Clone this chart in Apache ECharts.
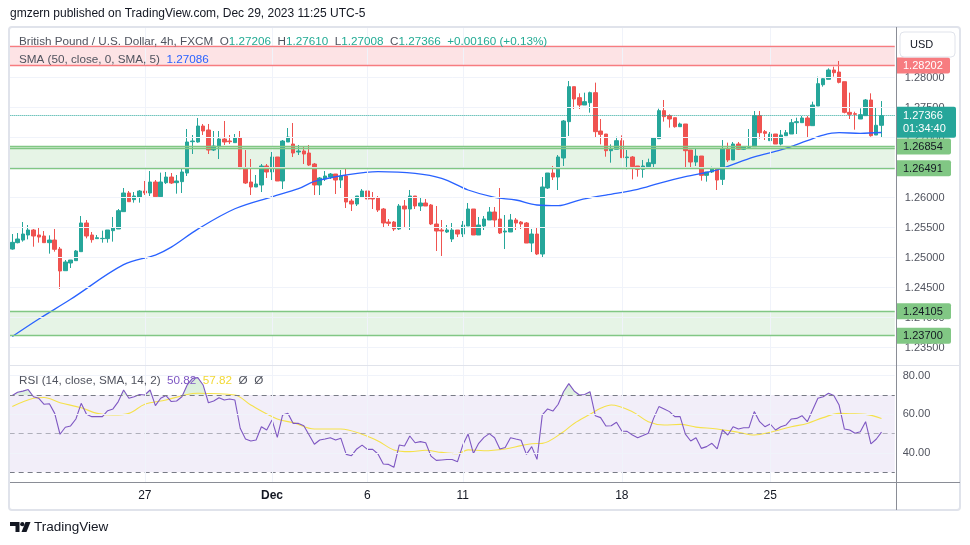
<!DOCTYPE html>
<html><head><meta charset="utf-8">
<script src="https://cdn.jsdelivr.net/npm/echarts@6/dist/echarts.min.js"></script>
<style>html,body{margin:0;padding:0;background:#fff}#c{width:970px;height:545px}</style>
</head><body><div id="c"></div>
<script>
// ---------------- DATA ----------------
const opens = [
1.25144,1.25250,1.25294,1.25378,1.25461,1.25378,1.25361,1.25250,1.25294,1.25144,
1.24783,1.24911,1.24950,1.25100,1.25578,1.25378,1.25317,1.25317,1.25317,1.25450,
1.25478,1.25767,1.26078,1.25967,1.26011,1.26111,1.26078,1.26261,1.26017,1.26250,
1.26344,1.26250,1.26267,1.26411,1.26933,1.26928,1.27194,1.27128,1.26794,1.26850,
1.26978,1.26944,1.26917,1.26994,1.26494,1.26261,1.26178,1.26211,1.26528,1.26428,
1.26678,1.26278,1.26928,1.26894,1.26761,1.26778,1.26744,1.26561,1.26211,1.26311,
1.26344,1.26394,1.26294,1.26361,1.25944,1.25894,1.26011,1.26111,1.25994,1.25994,
1.25811,1.25594,1.25594,1.25478,1.25861,1.25811,1.26028,1.25861,1.25911,1.25878,
1.25561,1.25461,1.25428,1.25311,1.25461,1.25394,1.25528,1.25811,1.25378,1.25528,
1.25628,1.25761,1.25644,1.25428,1.25428,1.25628,1.25594,1.25578,1.25244,1.25394,
1.25061,1.26161,1.26411,1.26344,1.26661,1.27267,1.27850,1.27667,1.27544,1.27583,
1.27750,1.27111,1.27061,1.26783,1.26806,1.26950,1.26667,1.26678,1.26528,1.26472,
1.26517,1.26567,1.26983,1.27450,1.27367,1.27333,1.27183,1.27228,1.26794,1.26594,
1.26694,1.26372,1.26428,1.26494,1.26305,1.26817,1.26628,1.26894,1.26806,1.26839,
1.26850,1.27367,1.27100,1.26950,1.27061,1.26894,1.27033,1.27061,1.27250,1.27250,
1.27328,1.27200,1.27528,1.27883,1.27972,1.28128,1.28094,1.27933,1.27422,1.27400,
1.27311,1.27367,1.27628,1.27044,1.27206];
const closes = [
1.25255,1.25311,1.25394,1.25461,1.25361,1.25344,1.25250,1.25294,1.25139,1.24778,
1.24928,1.24961,1.25111,1.25578,1.25361,1.25300,1.25333,1.25322,1.25461,1.25494,
1.25783,1.26078,1.25933,1.26028,1.26111,1.26078,1.26261,1.26017,1.26261,1.26344,
1.26244,1.26278,1.26428,1.26928,1.26944,1.27194,1.27111,1.26794,1.26861,1.26978,
1.26928,1.26933,1.26994,1.26483,1.26244,1.26178,1.26228,1.26528,1.26428,1.26678,
1.26278,1.26944,1.27011,1.26744,1.26778,1.26728,1.26544,1.26211,1.26328,1.26361,
1.26394,1.26294,1.26361,1.25928,1.25894,1.26028,1.26111,1.25978,1.25978,1.25794,
1.25578,1.25572,1.25478,1.25861,1.25811,1.26028,1.25861,1.25911,1.25861,1.25561,
1.25444,1.25444,1.25461,1.25461,1.25394,1.25544,1.25811,1.25378,1.25544,1.25644,
1.25761,1.25628,1.25411,1.25444,1.25628,1.25578,1.25561,1.25244,1.25394,1.25061,
1.26178,1.26411,1.26344,1.26678,1.27278,1.27850,1.27644,1.27544,1.27600,1.27750,
1.27100,1.27055,1.26783,1.26817,1.26950,1.26667,1.26678,1.26517,1.26472,1.26528,
1.26583,1.27000,1.27450,1.27350,1.27311,1.27183,1.27228,1.26783,1.26594,1.26694,
1.26372,1.26428,1.26494,1.26294,1.26817,1.26628,1.26894,1.26806,1.26850,1.26850,
1.27367,1.27083,1.27072,1.27061,1.26894,1.27044,1.27083,1.27250,1.27267,1.27328,
1.27200,1.27544,1.27900,1.27983,1.28128,1.28083,1.27922,1.27422,1.27389,1.27389,
1.27383,1.27628,1.27033,1.27206,1.27366];
const lows = [
1.25133,1.25239,1.25267,1.25305,1.25183,1.25250,1.25250,1.25067,1.25100,1.24478,
1.24783,1.24828,1.24950,1.25100,1.25322,1.25250,1.25317,1.25250,1.25250,1.25267,
1.25478,1.25767,1.25933,1.25917,1.25917,1.26044,1.26028,1.26017,1.26017,1.26228,
1.26228,1.26067,1.26078,1.26361,1.26728,1.26917,1.27044,1.26728,1.26778,1.26644,
1.26878,1.26894,1.26917,1.26483,1.26228,1.26044,1.26178,1.26094,1.26328,1.26294,
1.26278,1.26144,1.26928,1.26678,1.26711,1.26561,1.26528,1.26044,1.26044,1.26278,
1.26311,1.26061,1.26161,1.25828,1.25778,1.25861,1.25994,1.25911,1.25811,1.25761,
1.25511,1.25528,1.25444,1.25461,1.25494,1.25461,1.25811,1.25778,1.25861,1.25544,
1.25111,1.25028,1.25411,1.25261,1.25344,1.25344,1.25528,1.25378,1.25378,1.25461,
1.25628,1.25494,1.25394,1.25144,1.25428,1.25461,1.25478,1.25244,1.25094,1.25044,
1.24994,1.26144,1.26294,1.26128,1.26528,1.27028,1.27478,1.27478,1.27544,1.27417,
1.27000,1.26889,1.26683,1.26583,1.26806,1.26667,1.26472,1.26305,1.26350,1.26333,
1.26517,1.26505,1.26983,1.27267,1.27167,1.27167,1.27183,1.26483,1.26478,1.26528,
1.26283,1.26267,1.26411,1.26128,1.26211,1.26594,1.26628,1.26794,1.26794,1.26822,
1.26850,1.26983,1.26961,1.26950,1.26894,1.26872,1.27033,1.27061,1.27061,1.27250,
1.27000,1.27200,1.27528,1.27850,1.27972,1.28017,1.27905,1.27405,1.27311,1.27133,
1.27311,1.27367,1.27017,1.27044,1.27008];
const highs = [
1.25394,1.25411,1.25594,1.25544,1.25478,1.25494,1.25444,1.25372,1.25478,1.25178,
1.24961,1.24961,1.25128,1.25694,1.25628,1.25428,1.25378,1.25450,1.25461,1.25678,
1.25811,1.26161,1.26111,1.26094,1.26128,1.26278,1.26444,1.26294,1.26417,1.26428,
1.26411,1.26378,1.26478,1.27144,1.27044,1.27328,1.27228,1.27228,1.27111,1.27111,
1.27278,1.27044,1.27061,1.27111,1.26794,1.26644,1.26378,1.26561,1.26561,1.26761,
1.26678,1.26961,1.27161,1.27244,1.26878,1.26861,1.26878,1.26578,1.26344,1.26444,
1.26411,1.26394,1.26461,1.26511,1.25978,1.26028,1.26144,1.26111,1.26094,1.26028,
1.25828,1.25644,1.25611,1.25894,1.25961,1.26128,1.26028,1.25994,1.25978,1.25894,
1.25861,1.25628,1.25544,1.25578,1.25461,1.25611,1.25911,1.25811,1.25678,1.25694,
1.25844,1.25844,1.26161,1.25711,1.25728,1.25661,1.25611,1.25594,1.25478,1.25494,
1.26344,1.26411,1.26528,1.26711,1.27294,1.27944,1.27850,1.27739,1.27750,1.27767,
1.27917,1.27311,1.27061,1.26889,1.27017,1.27039,1.26794,1.26694,1.26528,1.26628,
1.26650,1.27000,1.27483,1.27628,1.27389,1.27333,1.27250,1.27228,1.26794,1.26828,
1.26694,1.26428,1.26517,1.26494,1.26961,1.26917,1.26928,1.26928,1.26861,1.27144,
1.27444,1.27444,1.27128,1.27094,1.27061,1.27128,1.27128,1.27311,1.27333,1.27361,
1.27361,1.27600,1.28017,1.28000,1.28155,1.28183,1.28278,1.27933,1.27750,1.27433,
1.27489,1.27644,1.27739,1.27500,1.27610];

// SMA(50) at these candle indices
const smaIdx = [0,5,11,21,27,30,35,42,49,54,57,63,69,76,81,86,91,95,99,103,107,112,118,122,127,133,140,145,150,153,156,160,164];
const smaVal = [1.23686,1.23978,1.24306,1.24883,1.25044,1.25175,1.25475,1.25815,1.26015,1.26150,1.26270,1.26378,1.26433,1.26406,1.26323,1.26128,1.26006,1.25961,1.25878,1.25866,1.25961,1.26044,1.26140,1.26240,1.26350,1.26465,1.26680,1.26795,1.26950,1.27044,1.27083,1.27073,1.27086];

// RSI(14), one value per candle
const rsiVal = [
69.7,71.4,72.0,72.8,69.1,68.3,65.2,65.5,60.5,49.7,
53.3,54.0,57.6,65.7,60.0,58.8,58.8,58.8,61.9,62.8,
66.6,72.6,68.3,69.1,70.3,70.0,72.6,64.5,68.3,69.7,
66.6,66.9,69.1,75.2,78.6,79.0,75.2,66.0,66.9,68.6,
67.4,67.9,67.4,52.8,47.2,46.2,46.7,53.6,51.9,57.1,
48.1,59.7,60.5,55.3,55.3,54.1,49.3,44.5,46.7,47.2,
47.9,46.7,47.6,39.3,38.6,42.1,44.1,41.9,41.9,39.5,
34.3,34.1,32.6,44.1,43.6,48.8,45.3,45.9,45.3,38.4,
36.2,36.4,36.6,36.6,35.5,44.1,49.8,39.8,45.0,48.1,
50.0,47.9,42.1,42.8,47.9,47.2,46.6,39.3,43.3,36.7,
59.7,62.8,61.7,65.2,71.7,75.9,72.1,70.0,70.3,71.7,
59.3,58.3,54.0,54.1,55.9,51.4,51.2,49.3,47.9,49.0,
50.2,57.9,64.0,62.8,61.4,58.8,58.8,49.8,46.2,47.9,
42.4,43.3,45.0,42.1,51.9,49.3,53.6,52.4,53.1,53.1,
61.4,56.2,53.6,55.0,51.9,53.6,54.5,57.6,57.9,59.3,
56.2,62.2,68.3,69.1,70.9,69.7,64.8,52.4,51.9,50.2,
51.0,56.2,44.7,47.1,50.8];

// RSI-based MA read at these indices
const rsiMaIdx = [0,4,6,9,13,16,19,22,25,29,33,35,42,45,50,53,57,62,66,69,72,75,78,81,84,86,89,93,96,98,100,104,106,109,111,113,117,120,123,126,129,133,137,140,143,147,150,153,156,158,161,164];
const rsiMaVal = [64.0,68.3,68.7,66.0,63.4,60.5,59.7,60.5,65.2,67.4,70.3,70.9,70.0,64.8,57.6,55.7,52.4,52.4,49.7,46.2,41.6,40.7,41.4,40.3,39.7,41.6,41.2,42.1,43.8,44.8,45.0,51.0,55.3,60.0,63.1,64.8,61.4,56.2,54.5,54.8,53.4,52.4,50.7,49.3,50.7,53.6,55.3,58.3,60.5,60.3,60.0,57.9];

const dateLabels = ['27','Dec','6','11','18','25'];
const dateIdx = [25,49,67,85,115,143];
const priceTicks = [1.235,1.240,1.245,1.250,1.255,1.260,1.265,1.270,1.275,1.280,1.285];
const rsiTicks = [40,60,80];
const rsiLevels = [30,50,70];
const redZone = [1.28202,1.28516];
const greenZone1 = [1.26491,1.26854];
const greenZone1Inner = 1.26820;
const greenZone2 = [1.23700,1.24105];
const lastPrice = 1.27366;
const countdown = '01:34:40';

// ---------------- CHART ----------------
const FONT = '"Liberation Sans", Arial, sans-serif';
const N = 167;
const cats = Array.from({length:N},(_,i)=>String(i));
const candles = opens.map((o,i)=>[o, closes[i], lows[i], highs[i]]);
const smaData = smaIdx.map((x,i)=>[String(x), smaVal[i]]);
const rsiMaData = rsiMaIdx.map((x,i)=>[String(x), rsiMaVal[i]]);

const GL = 9.65, GR = 75.25, P_TOP = 27, P_BOT = 365, R_BOT = 482;
const R_MIN = 25.0, R_MAX = 85.52;
const chart = echarts.init(document.getElementById('c'));

const grayLine = {color:'#f0f3fa', width:1, type:'solid'};
const vLines = dateIdx.map(i=>({xAxis:String(i), lineStyle:grayLine, label:{show:false}}));
// height of the overbought strip (RSI 70..max) inside the RSI pane
const OB_H = (R_MAX - rsiLevels[2]) / (R_MAX - R_MIN) * (R_BOT - P_BOT);

const option = {
  animation:false,
  backgroundColor:'#ffffff',
  textStyle:{fontFamily:FONT},
  grid:[
    {left:GL, right:GR, top:P_TOP, height:P_BOT-P_TOP},
    {left:GL, right:GR, top:P_BOT, height:R_BOT-P_BOT},
    {left:GL, right:GR, top:P_BOT, height:OB_H}
  ],
  xAxis:[
    {type:'category', gridIndex:0, data:cats, boundaryGap:true, show:false},
    {type:'category', gridIndex:1, data:cats, boundaryGap:true,
     axisLine:{show:false}, axisTick:{show:false}, splitLine:{show:false},
     axisLabel:{
       interval:(i)=>dateIdx.indexOf(i)>=0,
       formatter:(v,i)=>{const t=dateLabels[dateIdx.indexOf(i)]||''; return t==='Dec'?'{b|Dec}':t;},
       color:'#131722', fontSize:12, margin:8, fontFamily:FONT,
       rich:{b:{fontWeight:'bold', fontSize:12, color:'#131722', fontFamily:FONT}}
     }},
    {type:'category', gridIndex:2, data:cats, boundaryGap:true, show:false}
  ],
  yAxis:[
    {type:'value', gridIndex:0, min:1.232112, max:1.288445, show:false},
    {type:'value', gridIndex:1, min:R_MIN, max:R_MAX, show:false},
    {type:'value', gridIndex:2, min:rsiLevels[2], max:R_MAX, show:false}
  ],
  series:[
    { // price grid lines & tick labels
      type:'line', xAxisIndex:0, yAxisIndex:0, data:[], z:1, silent:true,
      markLine:{silent:true, precision:6, symbol:['none','none'], animation:false,
        data: priceTicks.map(v=>({yAxis:v, lineStyle:grayLine,
          label:{show:true, position:'end', distance:10, formatter:v.toFixed(5), color:'#50535e', fontSize:11, fontFamily:FONT}}))
          .concat(vLines)}
    },
    { // RSI grid lines, levels, band
      type:'line', xAxisIndex:1, yAxisIndex:1, data:[], z:1, silent:true,
      markArea:{silent:true, itemStyle:{color:'rgba(126,87,194,0.10)'}, data:[[{yAxis:rsiLevels[0]},{yAxis:rsiLevels[2]}]]},
      markLine:{silent:true, precision:4, symbol:['none','none'], animation:false,
        data: rsiTicks.map(v=>({yAxis:v, lineStyle:grayLine,
          label:{show:true, position:'end', distance:8, formatter:v.toFixed(2), color:'#50535e', fontSize:11, fontFamily:FONT}}))
          .concat(rsiLevels.map(v=>({yAxis:v, label:{show:false},
            lineStyle:{color: v===50?'rgba(120,123,134,0.55)':'#787b86', width:1, type:[5,4]}})))
          .concat(vLines)}
    },
    { // overbought fill (RSI above 70), clipped to the strip above the 70 level
      type:'line', xAxisIndex:2, yAxisIndex:2, data:rsiVal, z:2, symbol:'none', silent:true, clip:true,
      lineStyle:{width:0, opacity:0},
      areaStyle:{origin:'start', color:new echarts.graphic.LinearGradient(0,0,0,1,[
        {offset:0, color:'rgba(76,175,80,0.30)'},{offset:1, color:'rgba(76,175,80,0.02)'}])}
    },
    {
      type:'candlestick', xAxisIndex:0, yAxisIndex:0, data:candles, z:3, barWidth:4,
      itemStyle:{color:'#26a69a', color0:'#ef5350', borderColor:'#26a69a', borderColor0:'#ef5350', borderWidth:1},
      markArea:{silent:true, data:[
        [{yAxis:redZone[0], itemStyle:{color:'rgba(242,54,69,0.14)'}},{yAxis:redZone[1]}],
        [{yAxis:greenZone1[0], itemStyle:{color:'rgba(76,175,80,0.14)'}},{yAxis:greenZone1[1]}],
        [{yAxis:greenZone2[0], itemStyle:{color:'rgba(76,175,80,0.14)'}},{yAxis:greenZone2[1]}]
      ]},
      markLine:{silent:true, precision:6, symbol:['none','none'], animation:false, label:{show:false},
        data:[
          {yAxis:redZone[0], lineStyle:{color:'#f77c80', width:1.3, type:'solid'}},
          {yAxis:redZone[1], lineStyle:{color:'#f77c80', width:1.3, type:'solid'}},
          {yAxis:greenZone1[0], lineStyle:{color:'#81c784', width:1.3, type:'solid'}},
          {yAxis:greenZone1[1], lineStyle:{color:'#81c784', width:1.3, type:'solid'}},
          {yAxis:greenZone1Inner, lineStyle:{color:'#81c784', width:1.3, type:'solid'}},
          {yAxis:greenZone2[0], lineStyle:{color:'#81c784', width:1.3, type:'solid'}},
          {yAxis:greenZone2[1], lineStyle:{color:'#81c784', width:1.3, type:'solid'}},
          {yAxis:lastPrice, lineStyle:{color:'#26a69a', width:1, type:'dotted'}}
        ]}
    },
    {type:'line', xAxisIndex:0, yAxisIndex:0, data:smaData, z:4, symbol:'none', smooth:0.35,
     lineStyle:{color:'#2962ff', width:1.3}},
    {type:'line', xAxisIndex:1, yAxisIndex:1, data:rsiMaData, z:3, symbol:'none', smooth:0.35,
     lineStyle:{color:'#f5e14a', width:1.1}},
    {type:'line', xAxisIndex:1, yAxisIndex:1, data:rsiVal, z:4, symbol:'none',
     lineStyle:{color:'#7e57c2', width:1.1}}
  ]
};
chart.setOption(option);

// ---------------- OVERLAY (positions from the library's scale) ----------------
const py = v => chart.convertToPixel({yAxisIndex:0}, v);
const G = [];
const Z = 100;
function txt(x,y,text,fill,size,extra){
  G.push(Object.assign({type:'text', z:Z+2, silent:true, x:x, y:y,
    style:Object.assign({text:text, fill:fill, font:(size||12)+'px '+FONT, verticalAlign:'middle', align:'left'}, extra||{})}));
}
function line(x1,y1,x2,y2,color,w){
  G.push({type:'line', z:Z, silent:true, shape:{x1:x1,y1:y1,x2:x2,y2:y2}, style:{stroke:color, lineWidth:w||1}});
}
// frame & separators
G.push({type:'rect', z:Z, silent:true, shape:{x:9,y:27,width:951,height:483,r:3}, style:{fill:'transparent', stroke:'#e0e3eb', lineWidth:2}});
line(10,365.5,960,365.5,'#e0e3eb',1);
line(10,482.5,960,482.5,'#8a8d96',1);
line(896.5,27,896.5,510,'#8a8d96',1);

// price-scale boxes
function pbox(v,bg,fg,w){
  const y = py(v);
  G.push({type:'rect', z:Z+1, silent:true, shape:{x:897,y:y-8,width:w,height:16,r:[0,2,2,0]}, style:{fill:bg}});
  txt(903, y+0.5, v.toFixed(5), fg, 11);
}
pbox(redZone[0],'#f77c80','#ffffff',53);
pbox(greenZone1[1],'#81c784','#131722',54);
pbox(greenZone1[0],'#81c784','#131722',54);
pbox(greenZone2[1],'#81c784','#131722',54);
pbox(greenZone2[0],'#81c784','#131722',54);
{
  const y = py(lastPrice);
  G.push({type:'rect', z:Z+1, silent:true, shape:{x:897,y:y-9,width:59,height:31,r:[0,2,2,0]}, style:{fill:'#26a69a'}});
  txt(903, y+0.5, lastPrice.toFixed(5), '#ffffff', 11);
  txt(903, y+13.5, countdown, '#ffffff', 11);
}
// USD box
G.push({type:'rect', z:Z+1, silent:true, shape:{x:900,y:32,width:55,height:25,r:4}, style:{fill:'#ffffff', stroke:'#e0e3eb', lineWidth:1}});
txt(910, 44.5, 'USD', '#131722', 11);

// header texts
txt(10, 14, 'gmzern published on TradingView.com, Dec 29, 2023 11:25 UTC-5', '#131722', 12);
G.push({type:'text', z:Z+2, silent:true, x:19, y:41.5, style:{
  text:'{g|British Pound / U.S. Dollar, 4h, FXCM  O}{v|1.27206}{g|  H}{v|1.27610}{g|  L}{v|1.27008}{g|  C}{v|1.27366}{v|  +0.00160 (+0.13%)}',
  verticalAlign:'middle', font:'11.7px '+FONT,
  rich:{g:{fill:'#50535e', fontSize:11.7, fontFamily:FONT}, v:{fill:'#22ab94', fontSize:11.7, fontFamily:FONT}}}});
G.push({type:'text', z:Z+2, silent:true, x:19, y:59.5, style:{
  text:'{g|SMA (50, close, 0, SMA, 5)  }{b|1.27086}',
  verticalAlign:'middle', font:'11.7px '+FONT,
  rich:{g:{fill:'#50535e', fontSize:11.7, fontFamily:FONT}, b:{fill:'#2962ff', fontSize:11.7, fontFamily:FONT}}}});
G.push({type:'text', z:Z+2, silent:true, x:19, y:381, style:{
  text:'{g|RSI (14, close, SMA, 14, 2)  }{p|50.82}{g|  }{y|57.82}{g|  Ø  Ø}',
  verticalAlign:'middle', font:'11.7px '+FONT,
  rich:{g:{fill:'#50535e', fontSize:11.7, fontFamily:FONT}, p:{fill:'#7e57c2', fontSize:11.7, fontFamily:FONT}, y:{fill:'#f2d936', fontSize:11.7, fontFamily:FONT}}}});

// TradingView logo
G.push({type:'polygon', z:Z, silent:true, shape:{points:[[10,522],[19.5,522],[19.5,532],[15.5,532],[15.5,526],[10,526]]}, style:{fill:'#131722'}});
G.push({type:'circle', z:Z, silent:true, shape:{cx:22.3,cy:524.2,r:2.1}, style:{fill:'#131722'}});
G.push({type:'polygon', z:Z, silent:true, shape:{points:[[25.5,522],[30.5,522],[26.5,532],[21.5,532]]}, style:{fill:'#131722'}});
txt(34, 527.5, 'TradingView', '#131722', 13.5);

chart.setOption({graphic:G});
</script></body></html>
